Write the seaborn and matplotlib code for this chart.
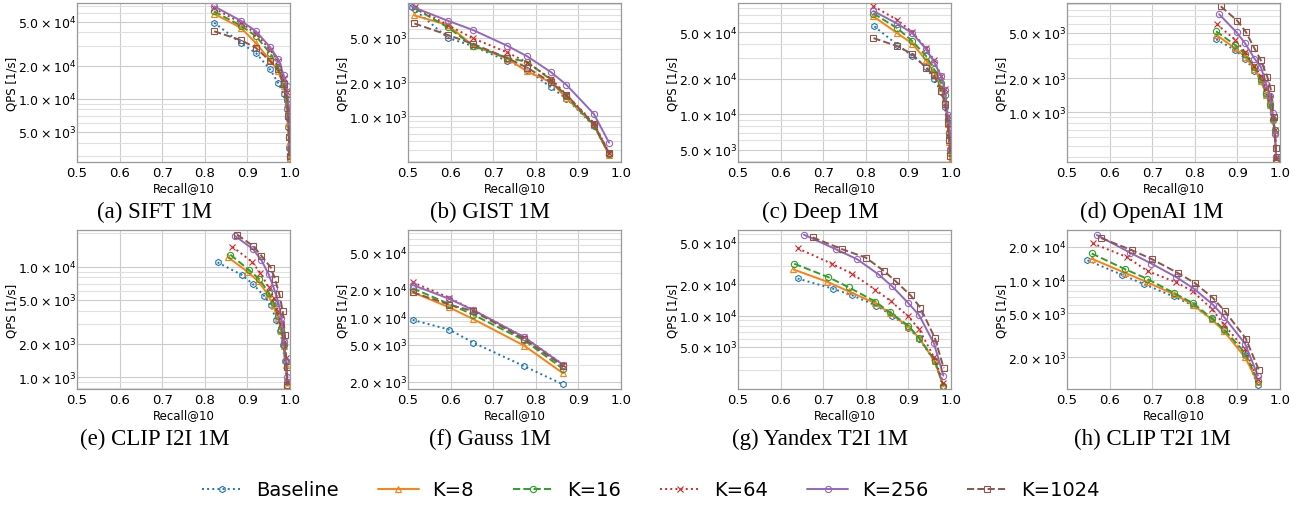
import numpy as np
import pandas as pd
import matplotlib
matplotlib.use("Agg")
import matplotlib.pyplot as plt
import matplotlib.ticker as mticker
import seaborn as sns

# ---------------------------------------------------------------------
# Data (Recall@10 vs QPS), one dict per dataset
# ---------------------------------------------------------------------
methods = ["Baseline", "K=8", "K=16", "K=64", "K=256", "K=1024"]

sift_recall = {
    "Baseline": [0.822, 0.885, 0.92, 0.953, 0.972, 0.985, 0.992, 0.996, 0.998, 0.999],
    "K=8": [0.822, 0.885, 0.92, 0.953, 0.972, 0.985, 0.992, 0.996, 0.998, 0.999],
    "K=16": [0.822, 0.885, 0.92, 0.953, 0.972, 0.985, 0.992, 0.996, 0.998, 0.999],
    "K=64": [0.822, 0.885, 0.92, 0.953, 0.972, 0.985, 0.992, 0.996, 0.998, 0.999],
    "K=256": [0.822, 0.885, 0.92, 0.953, 0.972, 0.985, 0.992, 0.996, 0.998, 0.999],
    "K=1024": [0.822, 0.885, 0.92, 0.953, 0.972, 0.985, 0.992, 0.996, 0.998, 0.999],
}
sift_qps = {
    "Baseline": [4.9e4, 3.2e4, 2.6e4, 1.85e4, 1.4e4, 1.1e4, 8.0e3, 5.5e3, 3.6e3, 2.8e3],
    "K=8": [5.9e4, 4.4e4, 3.2e4, 2.25e4, 1.8e4, 1.3e4, 9.0e3, 6.0e3, 4.0e3, 2.9e3],
    "K=16": [6.2e4, 4.6e4, 3.7e4, 2.6e4, 1.95e4, 1.4e4, 1.0e4, 6.8e3, 4.5e3, 3.0e3],
    "K=64": [6.6e4, 4.9e4, 3.9e4, 2.8e4, 2.2e4, 1.55e4, 1.15e4, 8.0e3, 5.0e3, 3.2e3],
    "K=256": [6.9e4, 5.1e4, 4.1e4, 2.95e4, 2.3e4, 1.65e4, 1.3e4, 9.0e3, 6.5e3, 3.6e3],
    "K=1024": [4.1e4, 3.4e4, 2.9e4, 2.2e4, 1.85e4, 1.35e4, 1.1e4, 7.0e3, 4.5e3, 3.0e3],
}

gist_recall = {
    "Baseline": [0.51, 0.593, 0.653, 0.733, 0.78, 0.836, 0.872, 0.936, 0.972],
    "K=8": [0.515, 0.593, 0.653, 0.733, 0.78, 0.836, 0.872, 0.936, 0.972],
    "K=16": [0.517, 0.593, 0.653, 0.733, 0.78, 0.836, 0.872, 0.936, 0.972],
    "K=64": [0.517, 0.593, 0.653, 0.733, 0.78, 0.836, 0.872, 0.936, 0.972],
    "K=256": [0.508, 0.593, 0.653, 0.733, 0.78, 0.836, 0.872, 0.936, 0.972],
    "K=1024": [0.515, 0.593, 0.653, 0.733, 0.78, 0.836, 0.872, 0.936, 0.972],
}
gist_qps = {
    "Baseline": [9.3e3, 5.0e3, 4.2e3, 3.1e3, 2.6e3, 1.8e3, 1.43e3, 820, 460],
    "K=8": [7.9e3, 6.5e3, 4.25e3, 3.25e3, 2.5e3, 2.0e3, 1.45e3, 840, 450],
    "K=16": [9.1e3, 6.2e3, 4.25e3, 3.3e3, 3.05e3, 2.1e3, 1.5e3, 830, 460],
    "K=64": [9.3e3, 6.5e3, 4.93e3, 3.7e3, 3.0e3, 2.15e3, 1.55e3, 870, 472],
    "K=256": [9.5e3, 7.1e3, 5.85e3, 4.24e3, 3.41e3, 2.46e3, 1.9e3, 1.05e3, 580],
    "K=1024": [6.7e3, 5.3e3, 4.4e3, 3.3e3, 2.7e3, 2.0e3, 1.55e3, 850, 470],
}

deep_recall = {
    "Baseline": [0.82, 0.874, 0.909, 0.941, 0.96, 0.977, 0.986, 0.992, 0.996, 0.998],
    "K=8": [0.818, 0.874, 0.909, 0.941, 0.96, 0.977, 0.986, 0.992, 0.996, 0.998],
    "K=16": [0.818, 0.874, 0.909, 0.941, 0.96, 0.977, 0.986, 0.992, 0.996, 0.998],
    "K=64": [0.818, 0.874, 0.909, 0.941, 0.96, 0.977, 0.986, 0.992, 0.996, 0.998],
    "K=256": [0.818, 0.874, 0.909, 0.941, 0.96, 0.977, 0.986, 0.992, 0.996, 0.998],
    "K=1024": [0.818, 0.874, 0.909, 0.941, 0.96, 0.977, 0.986, 0.992, 0.996, 0.998],
}
deep_qps = {
    "Baseline": [5.6e4, 3.9e4, 3.15e4, 2.55e4, 1.98e4, 1.55e4, 1.15e4, 8.3e3, 6.5e3, 5.0e3],
    "K=8": [6.8e4, 4.9e4, 4.0e4, 2.9e4, 2.27e4, 1.68e4, 1.3e4, 8.3e3, 5.8e3, 3.95e3],
    "K=16": [7.2e4, 5.4e4, 4.2e4, 3.15e4, 2.43e4, 1.85e4, 1.45e4, 9.2e3, 7.0e3, 4.7e3],
    "K=64": [8.3e4, 6.35e4, 5.0e4, 3.67e4, 2.89e4, 2.12e4, 1.63e4, 9.6e3, 7.0e3, 5.0e3],
    "K=256": [7.55e4, 5.9e4, 4.9e4, 3.6e4, 2.8e4, 2.1e4, 1.6e4, 9.9e3, 8.9e3, 5.0e3],
    "K=1024": [4.45e4, 3.8e4, 3.25e4, 2.5e4, 2.15e4, 1.59e4, 1.22e4, 8.4e3, 6.1e3, 4.4e3],
}

openai_recall = {
    "Baseline": [0.85, 0.895, 0.918, 0.94, 0.955, 0.968, 0.976, 0.983, 0.988, 0.991],
    "K=8": [0.85, 0.895, 0.918, 0.94, 0.955, 0.968, 0.976, 0.983, 0.988, 0.991],
    "K=16": [0.85, 0.895, 0.918, 0.94, 0.955, 0.968, 0.976, 0.983, 0.988, 0.991],
    "K=64": [0.852, 0.895, 0.918, 0.94, 0.955, 0.968, 0.976, 0.983, 0.988, 0.991],
    "K=256": [0.857, 0.898, 0.918, 0.94, 0.955, 0.968, 0.976, 0.983, 0.988, 0.991],
    "K=1024": [0.861, 0.9, 0.92, 0.94, 0.955, 0.97, 0.978, 0.985, 0.99, 0.992],
}
openai_qps = {
    "Baseline": [4.4e3, 3.53e3, 2.97e3, 2.33e3, 1.9e3, 1.43e3, 1.16e3, 870, 660, 378],
    "K=8": [4.83e3, 3.65e3, 3.1e3, 2.4e3, 1.9e3, 1.43e3, 1.15e3, 880, 670, 378],
    "K=16": [5.18e3, 3.91e3, 3.27e3, 2.5e3, 1.96e3, 1.48e3, 1.18e3, 850, 690, 380],
    "K=64": [5.95e3, 4.35e3, 3.39e3, 2.58e3, 2.1e3, 1.62e3, 1.34e3, 914, 690, 390],
    "K=256": [7.33e3, 5.07e3, 4.06e3, 2.97e3, 2.51e3, 1.76e3, 1.39e3, 975, 640, 405],
    "K=1024": [8.6e3, 6.4e3, 5.1e3, 3.66e3, 2.87e3, 2.06e3, 1.62e3, 914, 479, 400],
}

clipi2i_recall = {
    "Baseline": [0.83, 0.887, 0.912, 0.94, 0.955, 0.967, 0.977, 0.983, 0.988, 0.992],
    "K=8": [0.855, 0.9, 0.925, 0.948, 0.96, 0.972, 0.98, 0.985, 0.99, 0.994],
    "K=16": [0.86, 0.904, 0.928, 0.95, 0.962, 0.972, 0.98, 0.985, 0.99, 0.994],
    "K=64": [0.865, 0.91, 0.93, 0.95, 0.962, 0.972, 0.98, 0.985, 0.99, 0.994],
    "K=256": [0.87, 0.913, 0.933, 0.95, 0.962, 0.973, 0.98, 0.986, 0.991, 0.994],
    "K=1024": [0.876, 0.913, 0.933, 0.955, 0.965, 0.975, 0.983, 0.988, 0.992, 0.994],
}
clipi2i_qps = {
    "Baseline": [1.09e4, 8.4e3, 7.0e3, 5.4e3, 4.5e3, 3.3e3, 2.63e3, 1.96e3, 1.39e3, 910],
    "K=8": [1.21e4, 9.0e3, 7.4e3, 5.6e3, 4.5e3, 3.4e3, 2.6e3, 1.9e3, 1.3e3, 840],
    "K=16": [1.28e4, 9.3e3, 7.7e3, 5.8e3, 4.7e3, 3.55e3, 2.7e3, 1.96e3, 1.39e3, 840],
    "K=64": [1.51e4, 1.11e4, 8.8e3, 6.5e3, 5.2e3, 3.95e3, 3.0e3, 2.1e3, 1.49e3, 910],
    "K=256": [1.9e4, 1.44e4, 1.14e4, 8.5e3, 6.4e3, 4.7e3, 3.4e3, 2.1e3, 1.39e3, 1.0e3],
    "K=1024": [1.94e4, 1.54e4, 1.25e4, 9.8e3, 7.7e3, 5.6e3, 3.95e3, 2.43e3, 1.25e3, 850],
}

gauss_recall = {m: [0.511, 0.597, 0.653, 0.773, 0.864] for m in methods}
gauss_qps = {
    "Baseline": [9.3e3, 7.3e3, 5.3e3, 2.94e3, 1.87e3],
    "K=8": [1.85e4, 1.27e4, 9.5e3, 4.9e3, 2.47e3],
    "K=16": [2.04e4, 1.38e4, 1.06e4, 5.6e3, 2.75e3],
    "K=64": [2.37e4, 1.61e4, 1.19e4, 6.05e3, 3.07e3],
    "K=256": [2.22e4, 1.57e4, 1.19e4, 6.05e3, 3.05e3],
    "K=1024": [1.85e4, 1.36e4, 1.16e4, 5.8e3, 2.95e3],
}

yandex_recall = {
    "Baseline": [0.64, 0.722, 0.768, 0.825, 0.862, 0.9, 0.925, 0.962, 0.982],
    "K=8": [0.63, 0.71, 0.76, 0.822, 0.857, 0.9, 0.925, 0.962, 0.982],
    "K=16": [0.632, 0.712, 0.76, 0.822, 0.857, 0.9, 0.925, 0.962, 0.982],
    "K=64": [0.64, 0.72, 0.768, 0.822, 0.858, 0.9, 0.925, 0.96, 0.982],
    "K=256": [0.655, 0.73, 0.78, 0.83, 0.862, 0.9, 0.925, 0.96, 0.982],
    "K=1024": [0.675, 0.745, 0.8, 0.843, 0.87, 0.905, 0.928, 0.962, 0.983],
}
yandex_qps = {
    "Baseline": [2.26e4, 1.81e4, 1.56e4, 1.24e4, 1.0e4, 7.6e3, 6.0e3, 3.63e3, 2.1e3],
    "K=8": [2.76e4, 2.1e4, 1.7e4, 1.31e4, 1.05e4, 7.8e3, 6.1e3, 3.63e3, 2.1e3],
    "K=16": [3.13e4, 2.33e4, 1.86e4, 1.36e4, 1.07e4, 7.98e3, 6.1e3, 3.71e3, 2.13e3],
    "K=64": [4.4e4, 3.13e4, 2.51e4, 1.77e4, 1.38e4, 9.8e3, 7.4e3, 4.0e3, 2.26e3],
    "K=256": [5.93e4, 4.3e4, 3.45e4, 2.47e4, 1.9e4, 1.31e4, 1.01e4, 5.4e3, 2.66e3],
    "K=1024": [5.6e4, 4.3e4, 3.58e4, 2.66e4, 2.13e4, 1.56e4, 1.19e4, 6.1e3, 3.13e3],
}

clipt2i_recall = {
    "Baseline": [0.548, 0.628, 0.68, 0.75, 0.795, 0.84, 0.868, 0.918, 0.948],
    "K=8": [0.558, 0.637, 0.687, 0.752, 0.795, 0.84, 0.868, 0.918, 0.948],
    "K=16": [0.558, 0.637, 0.687, 0.752, 0.795, 0.84, 0.868, 0.918, 0.948],
    "K=64": [0.56, 0.64, 0.69, 0.755, 0.795, 0.84, 0.868, 0.918, 0.948],
    "K=256": [0.57, 0.648, 0.698, 0.757, 0.797, 0.843, 0.868, 0.918, 0.948],
    "K=1024": [0.58, 0.653, 0.7, 0.76, 0.8, 0.843, 0.87, 0.92, 0.95],
}
clipt2i_qps = {
    "Baseline": [1.51e4, 1.12e4, 9.2e3, 7.1e3, 5.9e3, 4.4e3, 3.5e3, 2.1e3, 1.11e3],
    "K=8": [1.56e4, 1.16e4, 9.6e3, 7.4e3, 6.0e3, 4.4e3, 3.45e3, 2.0e3, 1.18e3],
    "K=16": [1.74e4, 1.25e4, 1.03e4, 7.6e3, 6.2e3, 4.5e3, 3.59e3, 2.19e3, 1.22e3],
    "K=64": [2.15e4, 1.62e4, 1.2e4, 9.6e3, 7.9e3, 5.47e3, 3.96e3, 2.35e3, 1.26e3],
    "K=256": [2.56e4, 1.77e4, 1.41e4, 1.06e4, 8.4e3, 5.96e3, 4.66e3, 2.65e3, 1.36e3],
    "K=1024": [2.4e4, 1.86e4, 1.54e4, 1.16e4, 9.4e3, 6.85e3, 5.25e3, 2.94e3, 1.54e3],
}

captions = ["(a) SIFT 1M", "(b) GIST 1M", "(c) Deep 1M", "(d) OpenAI 1M",
            "(e) CLIP I2I 1M", "(f) Gauss 1M", "(g) Yandex T2I 1M", "(h) CLIP T2I 1M"]
y_ticks = [[5e3, 1e4, 2e4, 5e4], [1e3, 2e3, 5e3], [5e3, 1e4, 2e4, 5e4], [1e3, 2e3, 5e3],
           [1e3, 2e3, 5e3, 1e4], [2e3, 5e3, 1e4, 2e4, 5e4], [5e3, 1e4, 2e4, 5e4], [2e3, 5e3, 1e4, 2e4]]
y_limits = [(2.67e3, 7.4e4), (390, 1.02e4), (3.93e3, 8.85e4), (363, 9.2e3),
            (783, 2.14e4), (1.67e3, 8.7e4), (1.98e3, 6.58e4), (1.03e3, 2.84e4)]

panels = [(sift_recall, sift_qps), (gist_recall, gist_qps), (deep_recall, deep_qps),
          (openai_recall, openai_qps), (clipi2i_recall, clipi2i_qps), (gauss_recall, gauss_qps),
          (yandex_recall, yandex_qps), (clipt2i_recall, clipt2i_qps)]

# ---------------------------------------------------------------------
# Styling
# ---------------------------------------------------------------------
sns.set_theme(style="whitegrid")
plt.rcParams.update({
    "font.family": ["DejaVu Sans"],
    "axes.edgecolor": "0.6",
    "axes.linewidth": 0.9,
    "grid.color": "0.82",
    "grid.linewidth": 0.8,
    "text.color": "black",
    "axes.labelcolor": "black",
    "xtick.color": "black",
    "ytick.color": "black",
    "mathtext.fontset": "dejavusans",
})

palette = dict(zip(methods, sns.color_palette("tab10", 6)))
line_styles = {"Baseline": ":", "K=8": "-", "K=16": "--", "K=64": ":", "K=256": "-", "K=1024": "--"}
marker_map = {"Baseline": "h", "K=8": "^", "K=16": "o", "K=64": "x", "K=256": "o", "K=1024": "s"}


def sci_fmt(v, _pos):
    exp = int(np.floor(np.log10(v)))
    return r"$%.1f \times 10^{%d}$" % (v / 10 ** exp, exp)


fig = plt.figure(figsize=(13.02, 5.06), dpi=100)
W, H = 1302.0, 506.0
col_left = [77, 408, 738, 1067]
col_caption = [155, 490, 820, 1152]
row_top = [4, 231]
ax_w, ax_h = 213, 159
caption_y = [212, 439]

for i, ((rec, qps), cap) in enumerate(zip(panels, captions)):
    r, c = divmod(i, 4)
    ax = fig.add_axes([col_left[c] / W, 1 - (row_top[r] + ax_h) / H, ax_w / W, ax_h / H])
    for m in methods:
        df = pd.DataFrame({"recall": rec[m], "qps": qps[m]})
        sns.lineplot(data=df, x="recall", y="qps", ax=ax, color=palette[m],
                     linestyle=line_styles[m], marker=marker_map[m], markersize=4.5,
                     mfc="none", mec=palette[m], mew=0.8, lw=1.4,
                     sort=False, estimator=None, label=m)
    for ln in ax.lines:
        ln.set_markerfacecolor("none")
        ln.set_markeredgecolor(ln.get_color())
    ax.set_yscale("log")
    ax.set_xlim(0.5, 1.0)
    ax.set_ylim(*y_limits[i])
    ax.set_xticks([0.5, 0.6, 0.7, 0.8, 0.9, 1.0])
    ax.xaxis.set_major_formatter(mticker.FormatStrFormatter("%.1f"))
    ax.yaxis.set_major_locator(mticker.FixedLocator(y_ticks[i]))
    ax.yaxis.set_major_formatter(mticker.FuncFormatter(sci_fmt))
    ax.yaxis.set_minor_locator(mticker.LogLocator(base=10, subs=np.arange(1, 10)))
    ax.yaxis.set_minor_formatter(mticker.NullFormatter())
    ax.grid(True, which="major", axis="both", color="0.8")
    ax.grid(True, which="minor", axis="y", color="0.88")
    ax.tick_params(axis="x", which="major", labelsize=9.5, length=0, pad=3)
    ax.tick_params(axis="y", which="major", labelsize=9, length=0, pad=0.5)
    ax.tick_params(axis="y", which="minor", length=0)
    ax.set_xlabel("Recall@10", fontsize=8.5, labelpad=1)
    ax.set_ylabel("QPS [1/s]", fontsize=8.5, labelpad=0)
    if ax.get_legend() is not None:
        handles, labels = ax.get_legend_handles_labels()
        ax.get_legend().remove()
    fig.text(col_caption[c] / W, 1 - caption_y[r] / H, cap, ha="center", va="center",
             fontsize=16.5, family=["Liberation Serif", "DejaVu Serif"])

fig.legend(handles, labels, loc="center", bbox_to_anchor=(0.5, 1 - 491 / H), ncol=6,
           frameon=False, fontsize=14, handlelength=2.1, columnspacing=2.0,
           handletextpad=0.7, markerscale=1.0)

fig.savefig("out.png", dpi=100)
